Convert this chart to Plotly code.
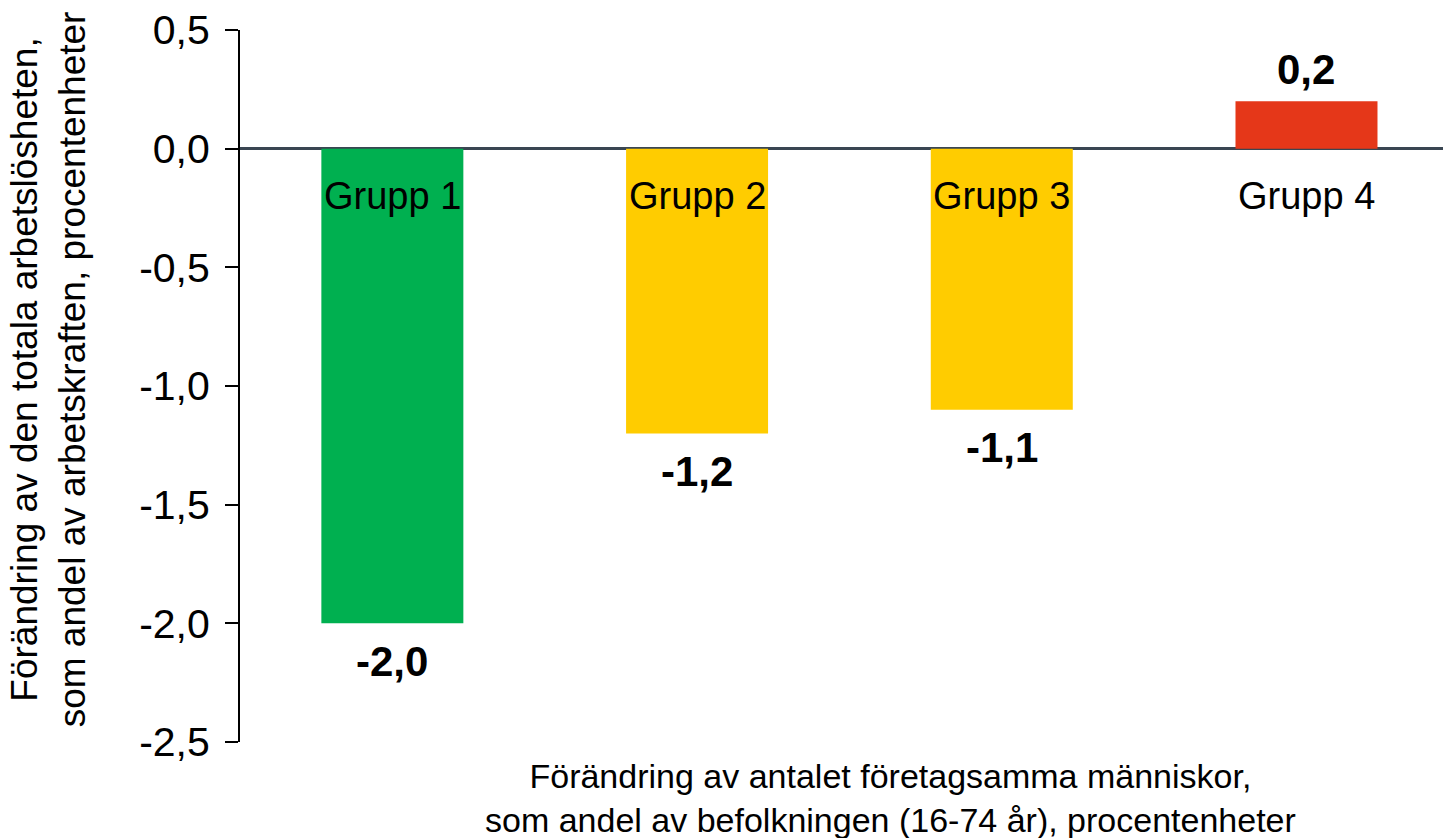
import plotly.graph_objects as go

categories = ["Grupp 1", "Grupp 2", "Grupp 3", "Grupp 4"]
values = [-2.0, -1.2, -1.1, 0.2]
colors = ["#00B050", "#FFCC00", "#FFCC00", "#E53719"]
y_ticks = [0.5, 0.0, -0.5, -1.0, -1.5, -2.0, -2.5]
y_title = "Förändring av den totala arbetslösheten,<br>som andel av arbetskraften, procentenheter"
x_title = "Förändring av antalet företagsamma människor,<br>som andel av befolkningen (16-74 år), procentenheter"

FONT = "Liberation Sans, Arial, sans-serif"

def fmt(v):
    return f"{v:.1f}".replace(".", ",")

fig = go.Figure(go.Bar(
    x=categories, y=values, marker=dict(color=colors, line=dict(width=0)),
    width=0.466, hoverinfo="skip",
))

annotations = []
for c, v in zip(categories, values):
    annotations.append(dict(
        x=c, y=v, xref="x", yref="y", text=f"<b>{fmt(v)}</b>", showarrow=False,
        yanchor="middle", yshift=(-38 if v < 0 else 32),
        font=dict(family=FONT, size=42, color="black"),
    ))
    annotations.append(dict(
        x=c, y=0, xref="x", yref="y", text=c, showarrow=False,
        yanchor="middle", yshift=-47,
        font=dict(family=FONT, size=38, color="black"),
    ))

annotations.append(dict(
    x=0.541, y=-0.0787, xref="paper", yref="paper", text=x_title, showarrow=False,
    xanchor="center", yanchor="middle", align="center",
    font=dict(family=FONT, size=34, color="black"),
))
annotations.append(dict(
    x=-0.159, y=0.523, xref="paper", yref="paper", text=y_title, showarrow=False,
    xanchor="center", yanchor="middle", align="center", textangle=-90,
    font=dict(family=FONT, size=37, color="black"),
))

fig.update_layout(
    width=1443, height=838,
    margin=dict(l=240, r=0, t=30, b=96),
    paper_bgcolor="white", plot_bgcolor="white",
    showlegend=False,
    annotations=annotations,
    xaxis=dict(
        range=[-0.5, 3.448], showticklabels=False, showline=False,
        showgrid=False, zeroline=False, ticks="",
    ),
    yaxis=dict(
        range=[-2.5, 0.5], tickvals=y_ticks, ticktext=[fmt(t) for t in y_ticks],
        showgrid=False, zeroline=True, zerolinecolor="#3A4652", zerolinewidth=3,
        showline=True, linecolor="black", linewidth=2,
        ticks="outside", ticklen=13, tickwidth=2, tickcolor="black",
        ticklabelstandoff=7,
        tickfont=dict(family=FONT, size=41, color="black"),
    ),
)

fig.write_html("out.html", config={"displayModeBar": False},
               post_script="document.body.style.margin='0';")
